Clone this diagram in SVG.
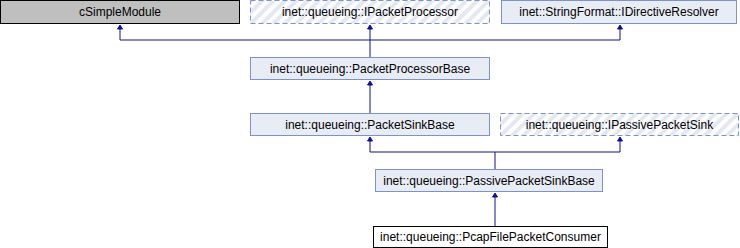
<svg xmlns="http://www.w3.org/2000/svg" width="740" height="248" viewBox="0 0 740 248">
  <style>
    .lbl { font-family: "Liberation Sans", Arial, sans-serif; font-size: 12px; fill: #000; text-anchor: middle; }
    .cls { fill: #e8ecf5; stroke: #7b93c9; stroke-width: 1; }
    .ifc { fill: url(#hatch); stroke: #7b93c9; stroke-width: 1; stroke-dasharray: 5,3; }
    .ext { fill: #bfbfbf; stroke: #000; stroke-width: 1; }
    .cur { fill: #fff; stroke: #000; stroke-width: 1; }
    .edge { fill: none; stroke: #10109a; stroke-width: 1; }
  </style>
  <defs>
    <pattern id="hatch" patternUnits="userSpaceOnUse" width="8" height="8" patternTransform="rotate(45)">
      <rect width="8" height="8" fill="#ffffff"/>
      <rect width="4" height="8" fill="#e3e8f2"/>
    </pattern>
    <marker id="arrow" markerWidth="6" markerHeight="6" refX="0" refY="0" orient="auto" markerUnits="userSpaceOnUse" viewBox="0 -3 6 6" overflow="visible">
      <polygon points="0,-2.5 4,0 0,2.5" fill="#10109a" stroke="#10109a" stroke-width="1"/>
    </marker>
  </defs>

  <!-- inheritance edges, arrowheads point at the base class -->
  <g id="connectors">
    <path class="edge" d="M370,57 V29" marker-end="url(#arrow)"/>
    <path class="edge" d="M370,40 H120 V29" marker-end="url(#arrow)"/>
    <path class="edge" d="M370,40 H620 V29" marker-end="url(#arrow)"/>
    <path class="edge" d="M370,113 V85" marker-end="url(#arrow)"/>
    <path class="edge" d="M495,169 V152 H370 V141" marker-end="url(#arrow)"/>
    <path class="edge" d="M495,152 H620 V141" marker-end="url(#arrow)"/>
    <path class="edge" d="M495,226 V197" marker-end="url(#arrow)"/>
  </g>

  <g id="cSimpleModule">
    <rect class="ext" x="0.5" y="0.5" width="239" height="23"/>
    <text class="lbl" x="120" y="16">cSimpleModule</text>
  </g>
  <g id="IPacketProcessor">
    <rect class="ifc" x="250.5" y="0.5" width="239" height="23"/>
    <text class="lbl" x="370" y="16">inet::queueing::IPacketProcessor</text>
  </g>
  <g id="IDirectiveResolver">
    <rect class="cls" x="501.5" y="0.5" width="235" height="23"/>
    <text class="lbl" x="619" y="16">inet::StringFormat::IDirectiveResolver</text>
  </g>
  <g id="PacketProcessorBase">
    <rect class="cls" x="250.5" y="57.5" width="239" height="22"/>
    <text class="lbl" x="370" y="72.5">inet::queueing::PacketProcessorBase</text>
  </g>
  <g id="PacketSinkBase">
    <rect class="cls" x="250.5" y="113.5" width="239" height="22"/>
    <text class="lbl" x="370" y="128.5">inet::queueing::PacketSinkBase</text>
  </g>
  <g id="IPassivePacketSink">
    <rect class="ifc" x="500.5" y="113.5" width="238" height="22"/>
    <text class="lbl" x="619.5" y="128.5">inet::queueing::IPassivePacketSink</text>
  </g>
  <g id="PassivePacketSinkBase">
    <rect class="cls" x="375.5" y="169.5" width="227" height="22"/>
    <text class="lbl" x="489" y="184.5">inet::queueing::PassivePacketSinkBase</text>
  </g>
  <g id="PcapFilePacketConsumer">
    <rect class="cur" x="373.5" y="226.5" width="234" height="21"/>
    <text class="lbl" x="490.5" y="241">inet::queueing::PcapFilePacketConsumer</text>
  </g>
</svg>
